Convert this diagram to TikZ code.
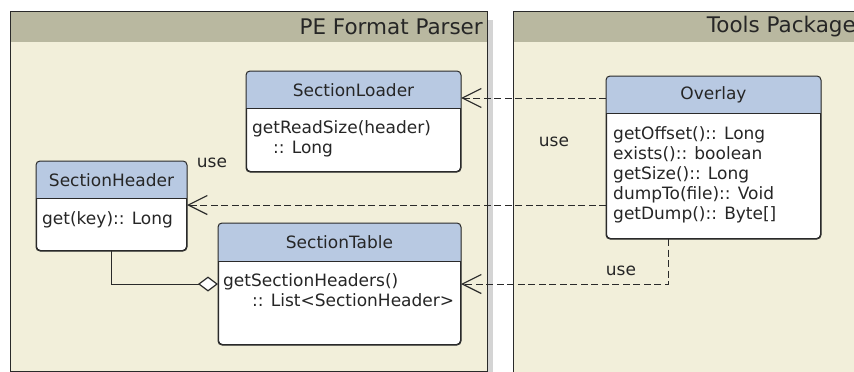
\documentclass[tikz,border=0pt]{standalone}
\usepackage{fontspec}
\setmainfont{DejaVu Sans}
\usetikzlibrary{arrows.meta,calc}
\definecolor{pkghead}{HTML}{B9B8A0}
\definecolor{pkgbody}{HTML}{F2EFDA}
\definecolor{clshead}{HTML}{B8C9E2}
\definecolor{lineclr}{HTML}{2A2A2A}
\definecolor{shadowclr}{HTML}{D4D4D4}
\tikzset{
  pkgframe/.style={draw=lineclr, line width=1pt},
  classbox/.style={draw=lineclr, line width=1pt, rounded corners=4pt, fill=white,
    inner sep=0pt, anchor=north west},
  clstitle/.style={font=\fontsize{17}{20}\selectfont, text=black!85, inner sep=0pt},
  clsbody/.style={font=\fontsize{17}{20}\selectfont, text=black!85, inner sep=0pt,
    anchor=north west, align=left},
  pkgtitle/.style={font=\fontsize{21.5}{24}\selectfont, text=black!85, inner sep=0pt, anchor=east},
  uselabel/.style={font=\fontsize{17}{20}\selectfont, text=black!85, inner sep=0pt},
  dep/.style={draw=lineclr, line width=1pt, dash pattern=on 7pt off 3.5pt,
    -{Straight Barb[length=19pt,width=19pt,line width=1.2pt]}},
  agg/.style={draw=lineclr, line width=1pt,
    -{Diamond[open,length=20pt,width=15pt,line width=1.2pt,fill=white]}},
}
\begin{document}
\begin{tikzpicture}[x=1pt,y=-1pt]
\useasboundingbox (0,0) rectangle (854,372);
\clip (0,0) rectangle (854,372);
% left package
\fill[shadowclr] (487,20) rectangle (493,380);
\fill[pkgbody] (10,11) rectangle (487,371);
\fill[pkghead] (10,11) rectangle (487,42);
\draw[pkgframe] (10,11) rectangle (487,371);
\node[pkgtitle] (pkgA) at (483,27) {PE Format Parser};
% right package
\fill[pkgbody] (513,11) rectangle (870,380);
\fill[pkghead] (513,11) rectangle (870,42);
\draw[pkgframe] (513,11) rectangle (870,380);
\node[pkgtitle] (pkgB) at (856,27) {Tools Package};

% SectionLoader
\node[classbox, minimum width=214pt, minimum height=100pt] (loader) at (246,71) {};
\begin{scope}
\clip[rounded corners=4pt] (loader.north west) rectangle (loader.south east);
\fill[clshead] (loader.north west) rectangle ($(loader.north east)+(0,37)$);
\end{scope}
\draw[draw=lineclr, line width=1pt, rounded corners=4pt] (loader.north west) rectangle (loader.south east);
\draw[lineclr, line width=1pt] ($(loader.north west)+(0,37)$) -- ($(loader.north east)+(0,37)$);
\node[clstitle] (loaderT) at ($(loader.north)+(0,19)$) {SectionLoader};
\node[clsbody] (loaderB) at (252,120) {getReadSize(header)\\\hspace*{21pt}:: Long};

% SectionHeader
\node[classbox, minimum width=150pt, minimum height=89pt] (header) at (36,161) {};
\begin{scope}
\clip[rounded corners=4pt] (header.north west) rectangle (header.south east);
\fill[clshead] (header.north west) rectangle ($(header.north east)+(0,37)$);
\end{scope}
\draw[draw=lineclr, line width=1pt, rounded corners=4pt] (header.north west) rectangle (header.south east);
\draw[lineclr, line width=1pt] ($(header.north west)+(0,37)$) -- ($(header.north east)+(0,37)$);
\node[clstitle] (headerT) at ($(header.north)+(0,19)$) {SectionHeader};
\node[clsbody] (headerB) at (42,211) {get(key):: Long};

% SectionTable
\node[classbox, minimum width=242pt, minimum height=121pt] (table) at (218,223) {};
\begin{scope}
\clip[rounded corners=4pt] (table.north west) rectangle (table.south east);
\fill[clshead] (table.north west) rectangle ($(table.north east)+(0,38)$);
\end{scope}
\draw[draw=lineclr, line width=1pt, rounded corners=4pt] (table.north west) rectangle (table.south east);
\draw[lineclr, line width=1pt] ($(table.north west)+(0,38)$) -- ($(table.north east)+(0,38)$);
\node[clstitle] (tableT) at ($(table.north)+(0,19)$) {SectionTable};
\node[clsbody] (tableB) at (223,273) {getSectionHeaders()\\\hspace*{29pt}:: List<SectionHeader>};

% Overlay
\node[classbox, minimum width=214pt, minimum height=162pt] (overlay) at (606,76) {};
\begin{scope}
\clip[rounded corners=4pt] (overlay.north west) rectangle (overlay.south east);
\fill[clshead] (overlay.north west) rectangle ($(overlay.north east)+(0,37)$);
\end{scope}
\draw[draw=lineclr, line width=1pt, rounded corners=4pt] (overlay.north west) rectangle (overlay.south east);
\draw[lineclr, line width=1pt] ($(overlay.north west)+(0,37)$) -- ($(overlay.north east)+(0,37)$);
\node[clstitle] (overlayT) at ($(overlay.north)+(0,19)$) {Overlay};
\node[clsbody] (overlayB) at (613,126) {getOffset():: Long\\exists():: boolean\\getSize():: Long\\dumpTo(file):: Void\\getDump():: Byte[]};

% connectors
\coordinate (d1) at ($(overlay.north west)+(0,22)$);
\coordinate (d2) at ($(overlay.north west)+(0,129)$);
\coordinate (d3) at ($(overlay.south)+(-45,0)$);
\draw[dep] (d1) -- (d1 -| loader.east);
\draw[dep] (d2) -- (d2 -| header.east);
\draw[dep] (d3) |- (table.east);
\draw[agg] (header.south) |- (table.west);

% labels
\node[uselabel] (use1) at (212,163) {use};
\node[uselabel] (use2) at (554,142) {use};
\node[uselabel] (use3) at (621,271) {use};
\end{tikzpicture}
\end{document}
